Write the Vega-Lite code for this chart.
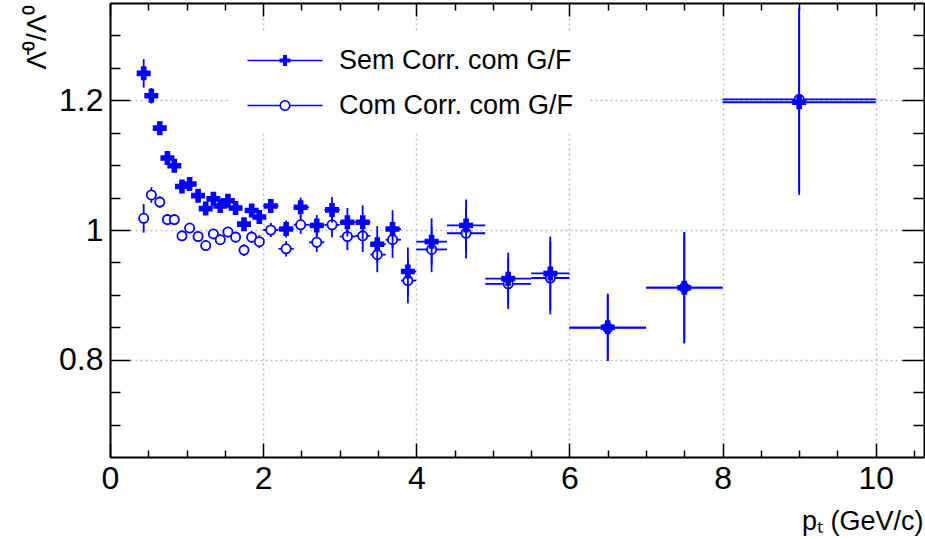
{
  "$schema": "https://vega.github.io/schema/vega-lite/v6.json",
  "width": 814,
  "height": 454,
  "autosize": {"type": "none"},
  "padding": {"left": 110, "top": 3, "right": 1, "bottom": 82},
  "background": "white",
  "config": {
    "view": {"stroke": null},
    "font": "Liberation Sans",
    "axis": {"labelFont": "Liberation Sans", "titleFont": "Liberation Sans", "domainColor": "black", "tickColor": "black", "labelColor": "black", "titleColor": "black", "titleFontWeight": "normal"}
  },
  "datasets": {
    "sem": [
      {"s": "Sem Corr. com G/F", "pt": 0.44, "r": 1.2415, "rlo": 1.2195, "rhi": 1.2635, "plo": 0.39, "phi": 0.49},
      {"s": "Sem Corr. com G/F", "pt": 0.54, "r": 1.207, "rlo": 1.195, "rhi": 1.219, "plo": 0.49, "phi": 0.59},
      {"s": "Sem Corr. com G/F", "pt": 0.65, "r": 1.157, "rlo": 1.148, "rhi": 1.166, "plo": 0.60, "phi": 0.70},
      {"s": "Sem Corr. com G/F", "pt": 0.75, "r": 1.111, "rlo": 1.103, "rhi": 1.119, "plo": 0.70, "phi": 0.80},
      {"s": "Sem Corr. com G/F", "pt": 0.84, "r": 1.099, "rlo": 1.091, "rhi": 1.107, "plo": 0.79, "phi": 0.89},
      {"s": "Sem Corr. com G/F", "pt": 0.94, "r": 1.067, "rlo": 1.059, "rhi": 1.075, "plo": 0.89, "phi": 0.99},
      {"s": "Sem Corr. com G/F", "pt": 1.04, "r": 1.071, "rlo": 1.063, "rhi": 1.079, "plo": 0.99, "phi": 1.09},
      {"s": "Sem Corr. com G/F", "pt": 1.15, "r": 1.053, "rlo": 1.045, "rhi": 1.061, "plo": 1.10, "phi": 1.20},
      {"s": "Sem Corr. com G/F", "pt": 1.25, "r": 1.033, "rlo": 1.025, "rhi": 1.041, "plo": 1.20, "phi": 1.30},
      {"s": "Sem Corr. com G/F", "pt": 1.35, "r": 1.048, "rlo": 1.040, "rhi": 1.056, "plo": 1.30, "phi": 1.40},
      {"s": "Sem Corr. com G/F", "pt": 1.44, "r": 1.037, "rlo": 1.029, "rhi": 1.045, "plo": 1.39, "phi": 1.49},
      {"s": "Sem Corr. com G/F", "pt": 1.54, "r": 1.045, "rlo": 1.037, "rhi": 1.053, "plo": 1.49, "phi": 1.59},
      {"s": "Sem Corr. com G/F", "pt": 1.64, "r": 1.034, "rlo": 1.026, "rhi": 1.042, "plo": 1.59, "phi": 1.69},
      {"s": "Sem Corr. com G/F", "pt": 1.75, "r": 1.009, "rlo": 1.000, "rhi": 1.018, "plo": 1.70, "phi": 1.80},
      {"s": "Sem Corr. com G/F", "pt": 1.85, "r": 1.030, "rlo": 1.021, "rhi": 1.039, "plo": 1.80, "phi": 1.90},
      {"s": "Sem Corr. com G/F", "pt": 1.95, "r": 1.020, "rlo": 1.010, "rhi": 1.030, "plo": 1.90, "phi": 2.00},
      {"s": "Sem Corr. com G/F", "pt": 2.10, "r": 1.037, "rlo": 1.026, "rhi": 1.048, "plo": 2.00, "phi": 2.20},
      {"s": "Sem Corr. com G/F", "pt": 2.30, "r": 1.0015, "rlo": 0.9885, "rhi": 1.0145, "plo": 2.20, "phi": 2.40},
      {"s": "Sem Corr. com G/F", "pt": 2.49, "r": 1.035, "rlo": 1.020, "rhi": 1.050, "plo": 2.40, "phi": 2.60},
      {"s": "Sem Corr. com G/F", "pt": 2.70, "r": 1.007, "rlo": 0.991, "rhi": 1.023, "plo": 2.60, "phi": 2.80},
      {"s": "Sem Corr. com G/F", "pt": 2.90, "r": 1.031, "rlo": 1.011, "rhi": 1.051, "plo": 2.80, "phi": 3.00},
      {"s": "Sem Corr. com G/F", "pt": 3.10, "r": 1.012, "rlo": 0.990, "rhi": 1.034, "plo": 3.00, "phi": 3.20},
      {"s": "Sem Corr. com G/F", "pt": 3.30, "r": 1.012, "rlo": 0.986, "rhi": 1.038, "plo": 3.20, "phi": 3.40},
      {"s": "Sem Corr. com G/F", "pt": 3.49, "r": 0.978, "rlo": 0.950, "rhi": 1.006, "plo": 3.40, "phi": 3.60},
      {"s": "Sem Corr. com G/F", "pt": 3.69, "r": 1.0015, "rlo": 0.9725, "rhi": 1.0305, "plo": 3.60, "phi": 3.80},
      {"s": "Sem Corr. com G/F", "pt": 3.89, "r": 0.936, "rlo": 0.899, "rhi": 0.973, "plo": 3.80, "phi": 4.00},
      {"s": "Sem Corr. com G/F", "pt": 4.20, "r": 0.982, "rlo": 0.946, "rhi": 1.018, "plo": 4.0, "phi": 4.4},
      {"s": "Sem Corr. com G/F", "pt": 4.65, "r": 1.007, "rlo": 0.967, "rhi": 1.047, "plo": 4.4, "phi": 4.9},
      {"s": "Sem Corr. com G/F", "pt": 5.20, "r": 0.925, "rlo": 0.885, "rhi": 0.965, "plo": 4.9, "phi": 5.5},
      {"s": "Sem Corr. com G/F", "pt": 5.75, "r": 0.933, "rlo": 0.876, "rhi": 0.990, "plo": 5.5, "phi": 6.0},
      {"s": "Sem Corr. com G/F", "pt": 6.50, "r": 0.850, "rlo": 0.798, "rhi": 0.902, "plo": 6.0, "phi": 7.0},
      {"s": "Sem Corr. com G/F", "pt": 7.50, "r": 0.911, "rlo": 0.825, "rhi": 0.997, "plo": 7.0, "phi": 8.0},
      {"s": "Sem Corr. com G/F", "pt": 9.00, "r": 1.197, "rlo": 1.054, "rhi": 1.340, "plo": 8.0, "phi": 10.0}
    ],
    "com": [
      {"s": "Com Corr. com G/F", "pt": 0.44, "r": 1.018, "rlo": 0.996, "rhi": 1.040, "plo": 0.39, "phi": 0.49},
      {"s": "Com Corr. com G/F", "pt": 0.54, "r": 1.054, "rlo": 1.042, "rhi": 1.066, "plo": 0.49, "phi": 0.59},
      {"s": "Com Corr. com G/F", "pt": 0.65, "r": 1.043, "rlo": 1.034, "rhi": 1.052, "plo": 0.60, "phi": 0.70},
      {"s": "Com Corr. com G/F", "pt": 0.75, "r": 1.016, "rlo": 1.008, "rhi": 1.024, "plo": 0.70, "phi": 0.80},
      {"s": "Com Corr. com G/F", "pt": 0.84, "r": 1.016, "rlo": 1.008, "rhi": 1.024, "plo": 0.79, "phi": 0.89},
      {"s": "Com Corr. com G/F", "pt": 0.94, "r": 0.991, "rlo": 0.983, "rhi": 0.999, "plo": 0.89, "phi": 0.99},
      {"s": "Com Corr. com G/F", "pt": 1.04, "r": 1.003, "rlo": 0.995, "rhi": 1.011, "plo": 0.99, "phi": 1.09},
      {"s": "Com Corr. com G/F", "pt": 1.15, "r": 0.990, "rlo": 0.982, "rhi": 0.998, "plo": 1.10, "phi": 1.20},
      {"s": "Com Corr. com G/F", "pt": 1.25, "r": 0.976, "rlo": 0.968, "rhi": 0.984, "plo": 1.20, "phi": 1.30},
      {"s": "Com Corr. com G/F", "pt": 1.35, "r": 0.994, "rlo": 0.986, "rhi": 1.002, "plo": 1.30, "phi": 1.40},
      {"s": "Com Corr. com G/F", "pt": 1.44, "r": 0.985, "rlo": 0.977, "rhi": 0.993, "plo": 1.39, "phi": 1.49},
      {"s": "Com Corr. com G/F", "pt": 1.54, "r": 0.997, "rlo": 0.989, "rhi": 1.005, "plo": 1.49, "phi": 1.59},
      {"s": "Com Corr. com G/F", "pt": 1.64, "r": 0.989, "rlo": 0.981, "rhi": 0.997, "plo": 1.59, "phi": 1.69},
      {"s": "Com Corr. com G/F", "pt": 1.75, "r": 0.969, "rlo": 0.960, "rhi": 0.978, "plo": 1.70, "phi": 1.80},
      {"s": "Com Corr. com G/F", "pt": 1.85, "r": 0.989, "rlo": 0.980, "rhi": 0.998, "plo": 1.80, "phi": 1.90},
      {"s": "Com Corr. com G/F", "pt": 1.95, "r": 0.982, "rlo": 0.972, "rhi": 0.992, "plo": 1.90, "phi": 2.00},
      {"s": "Com Corr. com G/F", "pt": 2.10, "r": 1.000, "rlo": 0.989, "rhi": 1.011, "plo": 2.00, "phi": 2.20},
      {"s": "Com Corr. com G/F", "pt": 2.30, "r": 0.971, "rlo": 0.959, "rhi": 0.983, "plo": 2.20, "phi": 2.40},
      {"s": "Com Corr. com G/F", "pt": 2.49, "r": 1.008, "rlo": 0.994, "rhi": 1.022, "plo": 2.40, "phi": 2.60},
      {"s": "Com Corr. com G/F", "pt": 2.70, "r": 0.981, "rlo": 0.966, "rhi": 0.996, "plo": 2.60, "phi": 2.80},
      {"s": "Com Corr. com G/F", "pt": 2.90, "r": 1.008, "rlo": 0.989, "rhi": 1.027, "plo": 2.80, "phi": 3.00},
      {"s": "Com Corr. com G/F", "pt": 3.10, "r": 0.990, "rlo": 0.969, "rhi": 1.011, "plo": 3.00, "phi": 3.20},
      {"s": "Com Corr. com G/F", "pt": 3.30, "r": 0.991, "rlo": 0.966, "rhi": 1.016, "plo": 3.20, "phi": 3.40},
      {"s": "Com Corr. com G/F", "pt": 3.49, "r": 0.962, "rlo": 0.935, "rhi": 0.989, "plo": 3.40, "phi": 3.60},
      {"s": "Com Corr. com G/F", "pt": 3.69, "r": 0.985, "rlo": 0.957, "rhi": 1.013, "plo": 3.60, "phi": 3.80},
      {"s": "Com Corr. com G/F", "pt": 3.89, "r": 0.922, "rlo": 0.887, "rhi": 0.957, "plo": 3.80, "phi": 4.00},
      {"s": "Com Corr. com G/F", "pt": 4.20, "r": 0.970, "rlo": 0.935, "rhi": 1.005, "plo": 4.0, "phi": 4.4},
      {"s": "Com Corr. com G/F", "pt": 4.65, "r": 0.995, "rlo": 0.956, "rhi": 1.034, "plo": 4.4, "phi": 4.9},
      {"s": "Com Corr. com G/F", "pt": 5.20, "r": 0.917, "rlo": 0.878, "rhi": 0.956, "plo": 4.9, "phi": 5.5},
      {"s": "Com Corr. com G/F", "pt": 5.75, "r": 0.926, "rlo": 0.870, "rhi": 0.982, "plo": 5.5, "phi": 6.0},
      {"s": "Com Corr. com G/F", "pt": 6.50, "r": 0.849, "rlo": 0.798, "rhi": 0.900, "plo": 6.0, "phi": 7.0},
      {"s": "Com Corr. com G/F", "pt": 7.50, "r": 0.911, "rlo": 0.826, "rhi": 0.996, "plo": 7.0, "phi": 8.0},
      {"s": "Com Corr. com G/F", "pt": 9.00, "r": 1.2015, "rlo": 1.0595, "rhi": 1.3435, "plo": 8.0, "phi": 10.0}
    ]
  },
  "resolve": {"axis": {"x": "independent", "y": "independent"}},
  "layer": [
    {
      "data": {"name": "com"},
      "mark": {"type": "rule", "color": "#0000ff", "strokeWidth": 1.8},
      "encoding": {
        "x": {"field": "pt", "type": "quantitative", "scale": {"domain": [0, 10.63], "nice": false, "zero": false},
          "axis": {"orient": "bottom", "values": [0, 2, 4, 6, 8, 10], "format": "d", "tickSize": -14, "tickWidth": 1.5, "labelFontSize": 32, "labelPadding": 20, "labelFlush": false, "labelOverlap": false, "domainWidth": 2, "grid": true, "gridDash": [2, 3], "gridColor": "#bdbdbd", "gridWidth": 1.5, "title": "pₜ (GeV/c)", "titleFontSize": 27, "titleX": 813, "titleY": 72, "titleAlign": "right", "titleBaseline": "alphabetic", "titleAnchor": null}},
        "y": {"field": "rlo", "type": "quantitative", "scale": {"domain": [0.65, 1.35], "nice": false, "zero": false},
          "axis": {"orient": "left", "values": [0.8, 1, 1.2], "format": "~g", "tickSize": -20, "tickWidth": 1.5, "labelFontSize": 32, "labelPadding": 27, "labelOverlap": false, "domainWidth": 2, "grid": true, "gridDash": [2, 3], "gridColor": "#bdbdbd", "gridWidth": 1.5, "title": "Λ̄⁰/Λ⁰", "titleFontSize": 28, "titleAngle": -90, "titleX": -65, "titleY": 1, "titleAlign": "right", "titleBaseline": "alphabetic", "titleAnchor": null}},
        "y2": {"field": "rhi"}
      }
    },
    {
      "data": {"name": "com"},
      "mark": {"type": "rule", "color": "#0000ff", "strokeWidth": 1.8},
      "encoding": {
        "x": {"field": "plo", "type": "quantitative", "scale": {"domain": [0, 10.63], "nice": false, "zero": false},
          "axis": {"orient": "bottom", "values": [0.5, 1, 1.5, 2.5, 3, 3.5, 4.5, 5, 5.5, 6.5, 7, 7.5, 8.5, 9, 9.5, 10.5], "tickSize": -7, "tickWidth": 1.5, "labels": false, "domain": false, "grid": false, "title": null}},
        "x2": {"field": "phi"},
        "y": {"field": "r", "type": "quantitative", "scale": {"domain": [0.65, 1.35], "nice": false, "zero": false},
          "axis": {"orient": "left", "values": [0.7, 0.75, 0.85, 0.9, 0.95, 1.05, 1.1, 1.15, 1.25, 1.3], "tickSize": -10, "tickWidth": 1.5, "labels": false, "domain": false, "grid": false, "title": null}}
      }
    },
    {
      "data": {"name": "com"},
      "mark": {"type": "point", "shape": "circle", "filled": true, "size": 85, "strokeWidth": 1.8, "opacity": 1},
      "encoding": {
        "x": {"field": "pt", "type": "quantitative", "scale": {"domain": [0, 10.63], "nice": false, "zero": false},
          "axis": {"orient": "top", "values": [0, 2, 4, 6, 8, 10], "tickSize": -13, "tickWidth": 1.5, "labels": false, "domainWidth": 2, "grid": false, "title": null}},
        "y": {"field": "r", "type": "quantitative", "scale": {"domain": [0.65, 1.35], "nice": false, "zero": false},
          "axis": {"orient": "right", "values": [0.8, 1, 1.2], "tickSize": -22, "tickWidth": 1.5, "labels": false, "domainWidth": 2, "grid": false, "title": null}},
        "fill": {"value": "white"},
        "stroke": {"value": "#0000ff"}
      }
    },
    {
      "data": {"name": "sem"},
      "mark": {"type": "rule", "color": "#0000ff", "strokeWidth": 1.8},
      "encoding": {
        "x": {"field": "pt", "type": "quantitative", "scale": {"domain": [0, 10.63], "nice": false, "zero": false},
          "axis": {"orient": "top", "values": [0.5, 1, 1.5, 2.5, 3, 3.5, 4.5, 5, 5.5, 6.5, 7, 7.5, 8.5, 9, 9.5, 10.5], "tickSize": -7, "tickWidth": 1.5, "labels": false, "domain": false, "grid": false, "title": null}},
        "y": {"field": "rlo", "type": "quantitative", "scale": {"domain": [0.65, 1.35], "nice": false, "zero": false},
          "axis": {"orient": "right", "values": [0.7, 0.75, 0.85, 0.9, 0.95, 1.05, 1.1, 1.15, 1.25, 1.3], "tickSize": -11, "tickWidth": 1.5, "labels": false, "domain": false, "grid": false, "title": null}},
        "y2": {"field": "rhi"}
      }
    },
    {
      "data": {"name": "sem"},
      "mark": {"type": "rule", "color": "#0000ff", "strokeWidth": 1.8},
      "encoding": {
        "x": {"field": "plo", "type": "quantitative", "scale": {"domain": [0, 10.63], "nice": false, "zero": false}, "axis": null},
        "x2": {"field": "phi"},
        "y": {"field": "r", "type": "quantitative", "scale": {"domain": [0.65, 1.35], "nice": false, "zero": false}, "axis": null}
      }
    },
    {
      "mark": {"type": "rule", "color": "#222222", "strokeWidth": 1.5, "strokeDash": [6, 3, 1, 3]},
      "encoding": {
        "y": {"datum": 1, "type": "quantitative", "scale": {"domain": [0.65, 1.35], "nice": false, "zero": false}, "axis": null}
      }
    },
    {
      "data": {"name": "sem"},
      "mark": {"type": "point", "shape": "cross", "filled": true, "size": 196, "opacity": 1, "color": "#0000ff"},
      "encoding": {
        "x": {"field": "pt", "type": "quantitative", "scale": {"domain": [0, 10.63], "nice": false, "zero": false}, "axis": null},
        "y": {"field": "r", "type": "quantitative", "scale": {"domain": [0.65, 1.35], "nice": false, "zero": false}, "axis": null}
      }
    },
    {
      "data": {"name": "sem"},
      "transform": [{"filter": "datum.pt < 0"}],
      "mark": {"type": "point", "filled": true, "opacity": 1, "color": "#0000ff"},
      "encoding": {
        "x": {"field": "pt", "type": "quantitative", "scale": {"domain": [0, 10.63], "nice": false, "zero": false}, "axis": null},
        "y": {"field": "r", "type": "quantitative", "scale": {"domain": [0.65, 1.35], "nice": false, "zero": false}, "axis": null},
        "shape": {"field": "s", "type": "nominal",
          "scale": {"domain": ["Sem Corr. com G/F", "Com Corr. com G/F"],
            "range": [
              "M-1.1,-0.075L6.4,-0.075L6.4,0.075L-1.1,0.075ZM2.1,-0.2L2.45,-0.2L2.45,-0.55L2.85,-0.55L2.85,-0.2L3.2,-0.2L3.2,0.2L2.85,0.2L2.85,0.55L2.45,0.55L2.45,0.2L2.1,0.2Z",
              "M-1.1,-0.075L2.12,-0.075L2.12,0.075L-1.1,0.075ZM3.18,-0.075L6.4,-0.075L6.4,0.075L3.18,0.075ZM3.2,0C3.2,0.3038,2.9538,0.55,2.65,0.55C2.3462,0.55,2.1,0.3038,2.1,0C2.1,-0.3038,2.3462,-0.55,2.65,-0.55C2.9538,-0.55,3.2,-0.3038,3.2,0ZM3.05,0C3.05,-0.2209,2.8709,-0.4,2.65,-0.4C2.4291,-0.4,2.25,-0.2209,2.25,0C2.25,0.2209,2.4291,0.4,2.65,0.4C2.8709,0.4,3.05,0.2209,3.05,0Z"
            ]},
          "legend": {
            "title": null, "orient": "none", "legendX": 120, "legendY": 29, "padding": 15,
            "fillColor": "white", "strokeColor": null,
            "labelFont": "Liberation Sans", "labelFontSize": 27, "labelColor": "black", "labelLimit": 400,
            "symbolSize": 400, "symbolOpacity": 1, "symbolFillColor": "#0000ff", "symbolStrokeWidth": 0,
            "labelOffset": 67, "rowPadding": 17
          }
        }
      }
    }
  ]
}
